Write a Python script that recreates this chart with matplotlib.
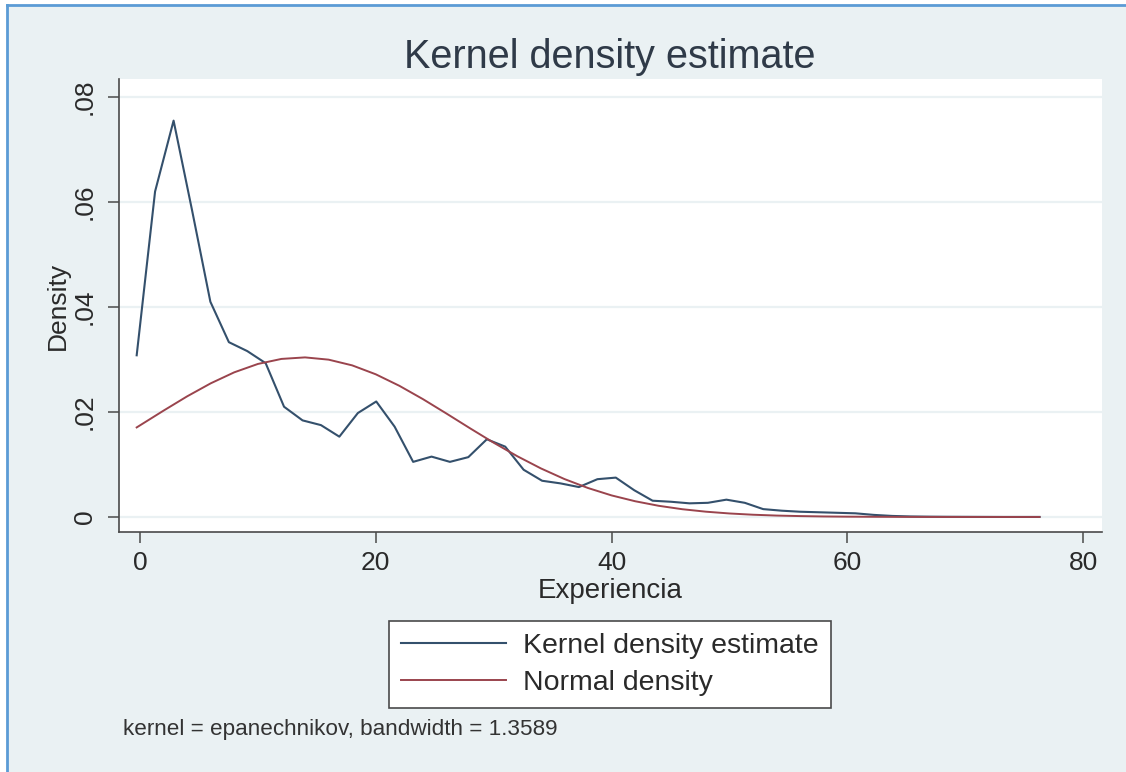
import matplotlib
matplotlib.use("Agg")
import matplotlib.pyplot as plt
from matplotlib.patches import Rectangle
from matplotlib.lines import Line2D

plt.rcParams['font.family'] = ['Liberation Sans', 'DejaVu Sans']

# Kernel density estimate evaluated on its grid (Experiencia)
kde_x = [-0.28, 1.28, 2.85, 4.41, 5.97, 7.54, 9.10, 10.66, 12.22, 13.79,
         15.35, 16.91, 18.48, 20.04, 21.60, 23.17, 24.73, 26.29, 27.85, 29.42,
         30.98, 32.54, 34.11, 35.67, 37.23, 38.80, 40.36, 41.92, 43.48, 45.05,
         46.61, 48.17, 49.74, 51.30, 52.86, 54.43, 55.99, 57.55, 59.11, 60.68,
         62.24, 63.80, 65.37, 66.93, 68.49, 70.06, 71.62, 73.18, 74.74, 76.30]
kde_y = [0.0308, 0.0620, 0.0755, 0.0585, 0.0410, 0.0333, 0.0316, 0.0293, 0.0210, 0.0184,
         0.0175, 0.0153, 0.0198, 0.0220, 0.0172, 0.0105, 0.0115, 0.0105, 0.0114, 0.0148,
         0.0134, 0.0090, 0.0069, 0.0064, 0.0057, 0.0072, 0.0075, 0.0051, 0.0031, 0.0029,
         0.0026, 0.0027, 0.0033, 0.0027, 0.0015, 0.0012, 0.0010, 0.0009, 0.0008, 0.0007,
         0.0004, 0.0002, 0.0001, 0.00006, 0.00004, 0.00003, 0.00002, 0.00001, 0.00001, 0.00001]

# Normal density overlay
norm_x = [-0.28, 2, 4, 6, 8, 10, 12, 14, 16, 18, 20, 22, 24, 26, 28, 30, 32, 34, 36,
          38, 40, 42, 44, 46, 48, 50, 52, 54, 56, 58, 60, 64, 68, 72, 76.30]
norm_y = [0.01706, 0.02026, 0.02298, 0.02546, 0.02756, 0.02915, 0.03011, 0.03040,
          0.02997, 0.02888, 0.02718, 0.02499, 0.02245, 0.01970, 0.01689, 0.01415,
          0.01158, 0.00926, 0.00723, 0.00552, 0.00411, 0.00300, 0.00213, 0.00148,
          0.00101, 0.00067, 0.00043, 0.00027, 0.00017, 0.00010, 0.00006, 0.00002,
          0.000005, 0.000001, 0.0]

x_ticks = [0, 20, 40, 60, 80]
x_tick_labels = ["0", "20", "40", "60", "80"]
y_ticks = [0, 0.02, 0.04, 0.06, 0.08]
y_tick_labels = ["0", ".02", ".04", ".06", ".08"]

W, H = 1126, 772
bg = '#eaf1f3'
navy = '#34506c'
maroon = '#9a444d'
axis_col = '#4a4a4a'
text_col = '#2a2a2a'

fig = plt.figure(figsize=(W / 100, H / 100), dpi=100, facecolor='white')

# outer panel with blue frame on top and left
fig.patches.append(Rectangle((7 / W, 0), 1 - 7 / W, 1 - 5 / H, transform=fig.transFigure,
                             facecolor=bg, edgecolor='none', zorder=-10))
fig.add_artist(Line2D([7 / W, 1], [1 - 5 / H, 1 - 5 / H], transform=fig.transFigure,
                      color='#5b9bd5', lw=2.0))
fig.add_artist(Line2D([7 / W, 7 / W], [0, 1 - 5 / H], transform=fig.transFigure,
                      color='#5b9bd5', lw=2.0))

ax = fig.add_axes([119 / W, 1 - 532 / H, (1102 - 119) / W, (532 - 79) / H])
ax.set_facecolor('white')

ax.plot(kde_x, kde_y, color=navy, lw=1.5, label='Kernel density estimate', zorder=3)
ax.plot(norm_x, norm_y, color=maroon, lw=1.4, label='Normal density', zorder=3)

ax.set_xlim(-1.78, 81.6)
ax.set_ylim(-0.00286, 0.08343)

ax.set_xticks(x_ticks)
ax.set_xticklabels(x_tick_labels)
ax.set_yticks(y_ticks)
ax.set_yticklabels(y_tick_labels, rotation=90, va='center')

ax.yaxis.grid(True, color='#eaf1f3', lw=1.6)
ax.xaxis.grid(False)
ax.set_axisbelow(True)

for s in ['top', 'right']:
    ax.spines[s].set_visible(False)
for s in ['left', 'bottom']:
    ax.spines[s].set_color(axis_col)
    ax.spines[s].set_linewidth(1.2)

ax.tick_params(axis='both', direction='out', length=8, width=1.1, color=axis_col,
               labelsize=19, labelcolor=text_col)
ax.tick_params(axis='x', pad=6)
ax.tick_params(axis='y', pad=8)

ax.set_xlabel('Experiencia', fontsize=20, color=text_col, labelpad=2)
ax.set_ylabel('Density', fontsize=19, color=text_col, labelpad=2)

fig.text(610 / W, 1 - 57 / H, 'Kernel density estimate', ha='center', va='center',
         fontsize=28.5, color='#2f3a48')

leg = fig.legend(loc='center', bbox_to_anchor=(610 / W, 1 - 664.5 / H), ncol=1,
                 fontsize=20.5, frameon=True, fancybox=False, handlelength=3.7,
                 handletextpad=0.6, borderpad=0.42, labelspacing=0.40,
                 borderaxespad=0)
leg.get_frame().set_edgecolor(axis_col)
leg.get_frame().set_linewidth(1.2)
leg.get_frame().set_facecolor('white')
leg.get_frame().set_alpha(1)
for t in leg.get_texts():
    t.set_color(text_col)

fig.text(123 / W, 1 - 729 / H, 'kernel = epanechnikov, bandwidth = 1.3589', ha='left',
         va='center', fontsize=16.2, color='#333333')

fig.savefig('out.png', dpi=100, facecolor=fig.get_facecolor())
